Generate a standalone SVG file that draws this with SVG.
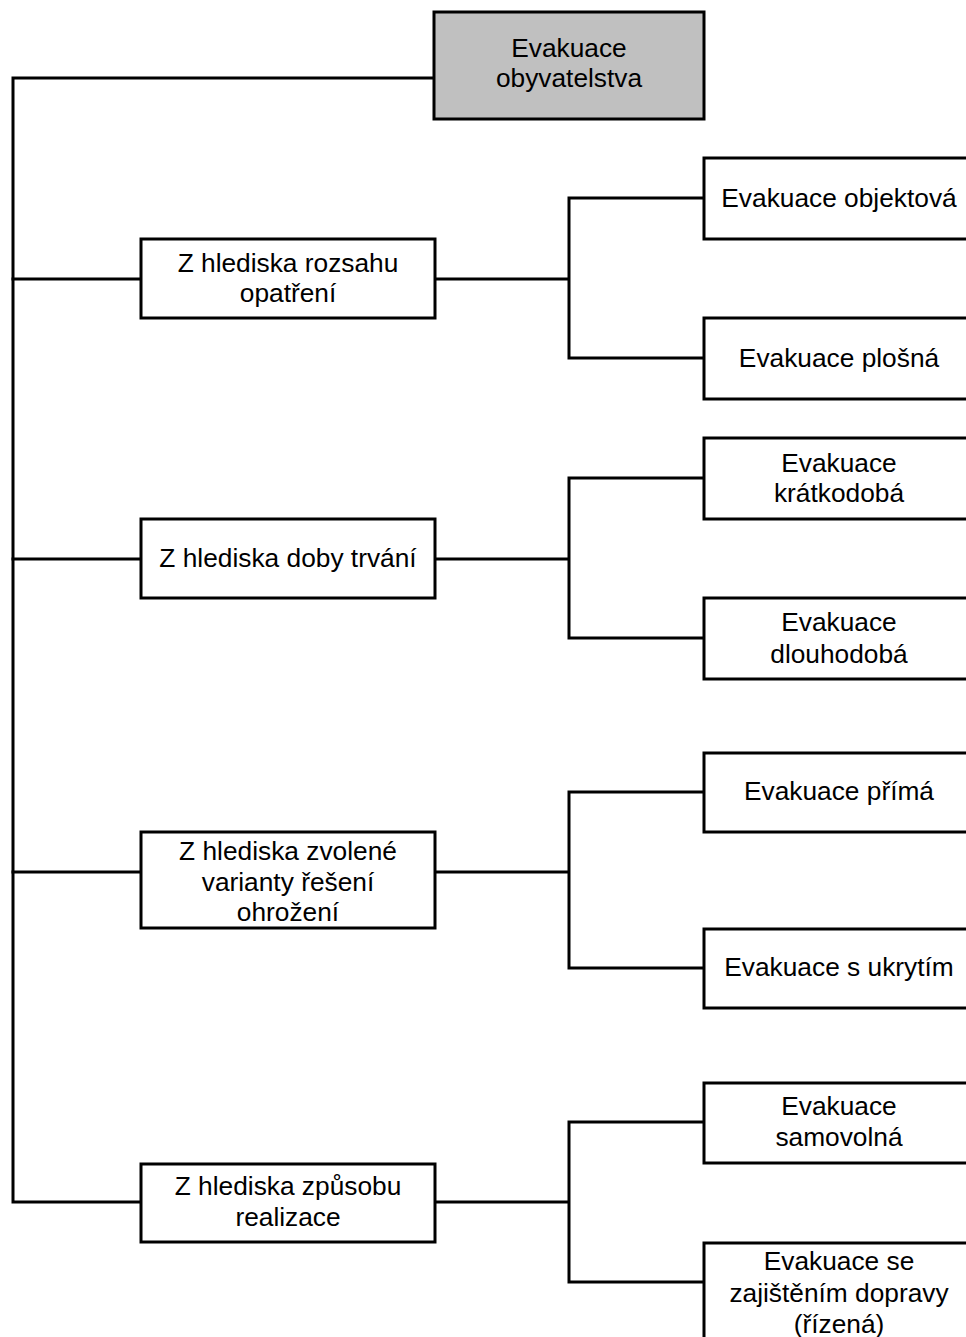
<svg xmlns="http://www.w3.org/2000/svg" width="966" height="1337" viewBox="0 0 966 1337">
  <style>
    .box { fill: #ffffff; stroke: #000000; stroke-width: 3; }
    .root { fill: #c0c0c0; stroke: #000000; stroke-width: 3; }
    .wire { fill: none; stroke: #000000; stroke-width: 3; stroke-linecap: square; }
    text { font-family: "Liberation Sans", Arial, sans-serif; font-size: 26.3px; fill: #000000; text-anchor: middle; }
  </style>
  <rect width="966" height="1337" fill="#ffffff"/>

  <!-- connectors -->
  <g id="connectors">
    <path class="wire" d="M433,78 H13 V1202 H140"/>
    <path class="wire" d="M13,279 H140 M13,559 H140 M13,872 H140"/>
    <path class="wire" d="M436,279 H569 M569,198 V358 M569,198 H704 M569,358 H704"/>
    <path class="wire" d="M436,559 H569 M569,478 V638 M569,478 H704 M569,638 H704"/>
    <path class="wire" d="M436,872 H569 M569,792 V968 M569,792 H704 M569,968 H704"/>
    <path class="wire" d="M436,1202 H569 M569,1122 V1282 M569,1122 H704 M569,1282 H704"/>
  </g>

  <!-- root -->
  <g id="root">
    <rect class="root" x="434" y="12" width="270" height="107"/>
    <text x="569" y="57">Evakuace</text>
    <text x="569" y="87">obyvatelstva</text>
  </g>

  <!-- second level -->
  <g id="n-rozsah">
    <rect class="box" x="141" y="239" width="294" height="79"/>
    <text x="288" y="272">Z hlediska rozsahu</text>
    <text x="288" y="302">opatření</text>
  </g>
  <g id="n-doba">
    <rect class="box" x="141" y="519" width="294" height="79"/>
    <text x="288" y="567">Z hlediska doby trvání</text>
  </g>
  <g id="n-varianta">
    <rect class="box" x="141" y="832" width="294" height="96"/>
    <text x="288" y="860">Z hlediska zvolené</text>
    <text x="288" y="891">varianty řešení</text>
    <text x="288" y="921">ohrožení</text>
  </g>
  <g id="n-zpusob">
    <rect class="box" x="141" y="1164" width="294" height="78"/>
    <text x="288" y="1195">Z hlediska způsobu</text>
    <text x="288" y="1226">realizace</text>
  </g>

  <!-- leaves -->
  <g id="l-objektova">
    <rect class="box" x="704" y="158" width="270" height="81"/>
    <text x="839" y="207">Evakuace objektová</text>
  </g>
  <g id="l-plosna">
    <rect class="box" x="704" y="318" width="270" height="81"/>
    <text x="839" y="367">Evakuace plošná</text>
  </g>
  <g id="l-kratkodoba">
    <rect class="box" x="704" y="438" width="270" height="81"/>
    <text x="839" y="472">Evakuace</text>
    <text x="839" y="502">krátkodobá</text>
  </g>
  <g id="l-dlouhodoba">
    <rect class="box" x="704" y="598" width="270" height="81"/>
    <text x="839" y="631">Evakuace</text>
    <text x="839" y="663">dlouhodobá</text>
  </g>
  <g id="l-prima">
    <rect class="box" x="704" y="753" width="270" height="79"/>
    <text x="839" y="800">Evakuace přímá</text>
  </g>
  <g id="l-ukryti">
    <rect class="box" x="704" y="929" width="270" height="79"/>
    <text x="839" y="976">Evakuace s ukrytím</text>
  </g>
  <g id="l-samovolna">
    <rect class="box" x="704" y="1083" width="270" height="80"/>
    <text x="839" y="1115">Evakuace</text>
    <text x="839" y="1146">samovolná</text>
  </g>
  <g id="l-rizena">
    <rect class="box" x="704" y="1243" width="270" height="110"/>
    <text x="839" y="1270">Evakuace se</text>
    <text x="839" y="1302">zajištěním dopravy</text>
    <text x="839" y="1333">(řízená)</text>
  </g>
</svg>
